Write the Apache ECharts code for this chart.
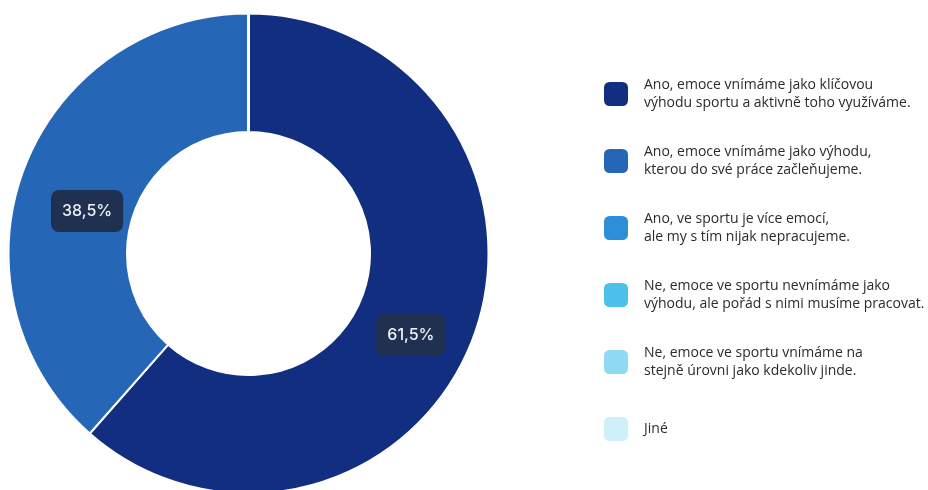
<!DOCTYPE html>
<html>
<head>
<meta charset="utf-8">
<script src="https://cdn.jsdelivr.net/npm/echarts@6/dist/echarts.min.js"></script>
<style>
  html, body { margin: 0; padding: 0; background: #ffffff; }
  #chart { width: 928px; height: 490px; }
</style>
</head>
<body>
<div id="chart"></div>
<script>
// Survey answers (two-line legend text) and their shares in percent
const categories = [
  'Ano, emoce vnímáme jako klíčovou\nvýhodu sportu a aktivně toho využíváme.',
  'Ano, emoce vnímáme jako výhodu,\nkterou do své práce začleňujeme.',
  'Ano, ve sportu je více emocí,\nale my s tím nijak nepracujeme.',
  'Ne, emoce ve sportu nevnímáme jako\nvýhodu, ale pořád s nimi musíme pracovat.',
  'Ne, emoce ve sportu vnímáme na\nstejně úrovni jako kdekoliv jinde.',
  'Jiné'
];
const shares = [61.5, 38.5, 0, 0, 0, 0];
const colors = ['#112e80', '#2566b7', '#2e8fd9', '#4ec0ec', '#8edaf3', '#cdf0fa'];
// small nudges of the value badges inside their slices
const labelShift = [[-9.5, 16.5], [10.5, 22.5], [0, 0], [0, 0], [0, 0], [0, 0]];

const chart = echarts.init(document.getElementById('chart'), null, { renderer: 'canvas' });

const data = categories.map((name, i) => ({
  name: name,
  value: shares[i],
  itemStyle: { color: colors[i] },
  label: { show: shares[i] > 0 }
}));

chart.setOption({
  animation: false,
  backgroundColor: '#ffffff',
  legend: {
    orient: 'vertical',
    left: 602,
    top: 76,
    padding: 0,
    itemWidth: 26,
    itemHeight: 26,
    itemGap: 31,
    icon: 'roundRect',
    selectedMode: false,
    data: categories,
    textStyle: {
      fontFamily: '"Open Sans", "Noto Sans", sans-serif',
      fontSize: 14,
      lineHeight: 18,
      height: 36,
      color: '#2b2b2b',
      padding: [0, 0, 0, 10]
    }
  },
  series: [{
    type: 'pie',
    center: [248.5, 253.5],
    radius: [121.5, 240],
    startAngle: 90,
    clockwise: true,
    avoidLabelOverlap: false,
    stillShowZeroSum: false,
    itemStyle: { borderColor: '#ffffff', borderWidth: 2 },
    emphasis: { disabled: true },
    label: {
      position: 'inside',
      formatter: p => p.value.toFixed(1).replace('.', ',') + '%',
      fontFamily: 'Inter, "Noto Sans", sans-serif',
      fontSize: 16,
      fontWeight: 500,
      color: '#eef1f6',
      backgroundColor: '#1f3050',
      borderRadius: 8,
      padding: [13, 11, 13, 11]
    },
    labelLayout: p => ({ dx: labelShift[p.dataIndex][0], dy: labelShift[p.dataIndex][1] }),
    labelLine: { show: false },
    data: data
  }]
});
</script>
</body>
</html>
